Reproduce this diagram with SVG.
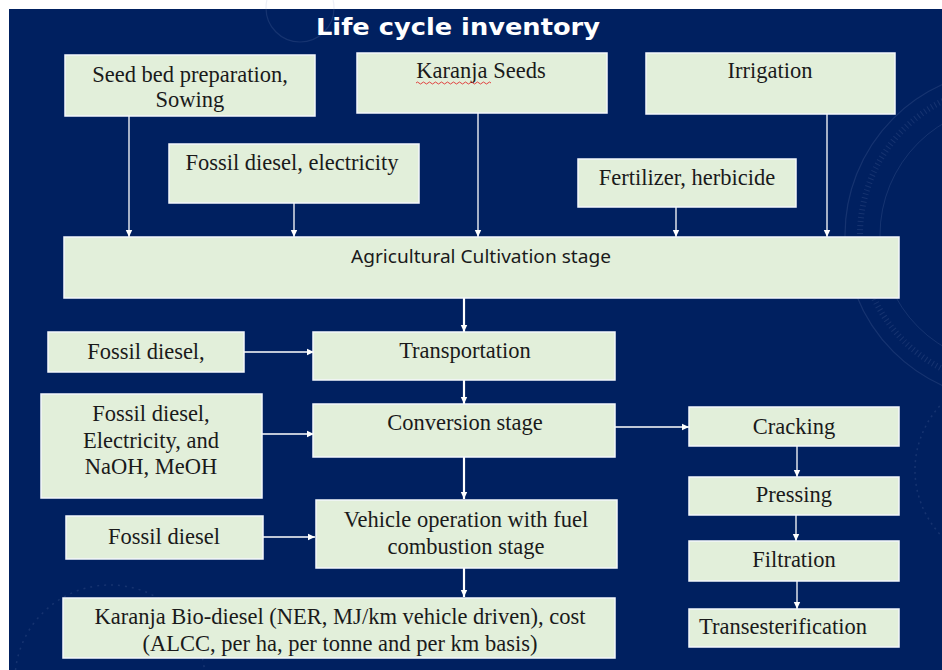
<svg xmlns="http://www.w3.org/2000/svg" width="942" height="670" viewBox="0 0 942 670">
<defs>
<marker id="ah" markerUnits="userSpaceOnUse" markerWidth="8" markerHeight="8" refX="7" refY="4" orient="auto">
<path d="M0,0.8 L7,4 L0,7.2 Z" fill="#ffffff"/>
</marker>
</defs>
<style>
.box{fill:#e2efda;stroke:#f4f7fb;stroke-width:1.5}
.t{font-family:"Liberation Serif","Times New Roman",serif;font-size:22.5px;fill:#1a1a1a;text-anchor:middle}
.c{stroke:#ffffff;stroke-width:1.3;fill:none;marker-end:url(#ah)}
.cb{stroke:#ffffff;stroke-width:2.2;fill:none;marker-end:url(#ah)}
.deco{fill:none;stroke:#8a9cc4;opacity:0.16}
</style>
<rect x="0" y="0" width="942" height="670" fill="#ffffff"/>
<rect x="9" y="9" width="933" height="661" fill="#002060"/>
<g id="decoration">
<circle class="deco" cx="300" cy="8" r="34" stroke-width="1.2"/>
<circle class="deco" cx="1010" cy="235" r="165" stroke-width="1.2"/>
<circle class="deco" cx="1010" cy="235" r="150" stroke-width="6" stroke-dasharray="1 3"/>
<circle class="deco" cx="1010" cy="235" r="130" stroke-width="1"/>
<circle class="deco" cx="1010" cy="470" r="95" stroke-width="1.5" stroke-dasharray="2 4"/>
<circle class="deco" cx="110" cy="680" r="95" stroke-width="1.5" stroke-dasharray="2 5"/>
</g>
<text x="458" y="35" font-family="'DejaVu Sans',Verdana,sans-serif" font-weight="bold" font-size="23" fill="#ffffff" text-anchor="middle" textLength="284" lengthAdjust="spacingAndGlyphs">Life cycle inventory</text>
<g id="connectors">
<line class="c" x1="129" y1="116" x2="129" y2="237"/>
<line class="c" x1="294" y1="203" x2="294" y2="237"/>
<line class="c" x1="478" y1="113" x2="478" y2="237"/>
<line class="c" x1="676" y1="207" x2="676" y2="237"/>
<line class="c" x1="827" y1="114" x2="827" y2="237"/>
<line class="cb" x1="464" y1="298" x2="464" y2="332"/>
<line class="cb" x1="464" y1="380" x2="464" y2="404"/>
<line class="cb" x1="464" y1="457" x2="464" y2="499"/>
<line class="cb" x1="464" y1="568" x2="464" y2="597"/>
<line class="c" x1="244" y1="352" x2="314" y2="352"/>
<line class="c" x1="262" y1="434" x2="314" y2="434"/>
<line class="c" x1="263" y1="537" x2="315" y2="537"/>
<line class="c" x1="615" y1="427" x2="689" y2="427"/>
<line class="c" x1="797" y1="446" x2="797" y2="477"/>
<line class="c" x1="796" y1="515" x2="796" y2="541"/>
<line class="c" x1="797" y1="581" x2="797" y2="609"/>
</g>
<g id="seedbed">
<rect class="box" x="65" y="55" width="250" height="61"/>
<text class="t" x="190" y="82">Seed bed preparation,</text>
<text class="t" x="190" y="107">Sowing</text>
</g>
<g id="karanja-seeds">
<rect class="box" x="357" y="53" width="250" height="60"/>
<text class="t" x="481" y="78">Karanja Seeds</text>
<path d="M416,83 q1.5,-2 3,0 t3,0 t3,0 t3,0 t3,0 t3,0 t3,0 t3,0 t3,0 t3,0 t3,0 t3,0 t3,0 t3,0 t3,0 t3,0 t3,0 t3,0 t3,0 t3,0 t3,0 t3,0 t3,0 t3,0 t3,0" fill="none" stroke="#e03030" stroke-width="0.9"/>
</g>
<g id="irrigation">
<rect class="box" x="646" y="53" width="249" height="61"/>
<text class="t" x="770" y="78">Irrigation</text>
</g>
<g id="fossil-electricity">
<rect class="box" x="169" y="144" width="250" height="59"/>
<text class="t" x="292" y="170">Fossil diesel, electricity</text>
</g>
<g id="fertilizer">
<rect class="box" x="578" y="159" width="218" height="48"/>
<text class="t" x="687" y="185">Fertilizer, herbicide</text>
</g>
<g id="agri">
<rect class="box" x="64" y="237" width="835" height="61"/>
<text x="481" y="263" font-family="'Noto Sans','Open Sans',sans-serif" font-size="18.5" fill="#1a1a1a" text-anchor="middle" textLength="260" lengthAdjust="spacingAndGlyphs">Agricultural Cultivation stage</text>
</g>
<g id="fossil1">
<rect class="box" x="48" y="332" width="196" height="40"/>
<text class="t" x="146" y="359">Fossil diesel,</text>
</g>
<g id="transportation">
<rect class="box" x="313" y="332" width="302" height="48"/>
<text class="t" x="465" y="358">Transportation</text>
</g>
<g id="fossil-naoh">
<rect class="box" x="41" y="394" width="221" height="104"/>
<text class="t" x="151" y="421">Fossil diesel,</text>
<text class="t" x="151" y="448">Electricity, and</text>
<text class="t" x="151" y="474">NaOH, MeOH</text>
</g>
<g id="conversion">
<rect class="box" x="313" y="404" width="302" height="53"/>
<text class="t" x="465" y="430">Conversion stage</text>
</g>
<g id="fossil2">
<rect class="box" x="66" y="516" width="197" height="43"/>
<text class="t" x="164" y="544">Fossil diesel</text>
</g>
<g id="vehicle">
<rect class="box" x="316" y="500" width="301" height="68"/>
<text class="t" x="466" y="527">Vehicle operation with fuel</text>
<text class="t" x="466" y="554">combustion stage</text>
</g>
<g id="biodiesel">
<rect class="box" x="63" y="598" width="552" height="60"/>
<text class="t" x="340" y="624">Karanja Bio-diesel (NER, MJ/km vehicle driven), cost</text>
<text class="t" x="340" y="651">(ALCC, per ha, per tonne and per km basis)</text>
</g>
<g id="cracking">
<rect class="box" x="689" y="407" width="210" height="39"/>
<text class="t" x="794" y="434">Cracking</text>
</g>
<g id="pressing">
<rect class="box" x="689" y="477" width="210" height="38"/>
<text class="t" x="794" y="502">Pressing</text>
</g>
<g id="filtration">
<rect class="box" x="689" y="541" width="210" height="40"/>
<text class="t" x="794" y="567">Filtration</text>
</g>
<g id="transesterification">
<rect class="box" x="689" y="609" width="210" height="38"/>
<text class="t" x="783" y="634">Transesterification</text>
</g>
</svg>
